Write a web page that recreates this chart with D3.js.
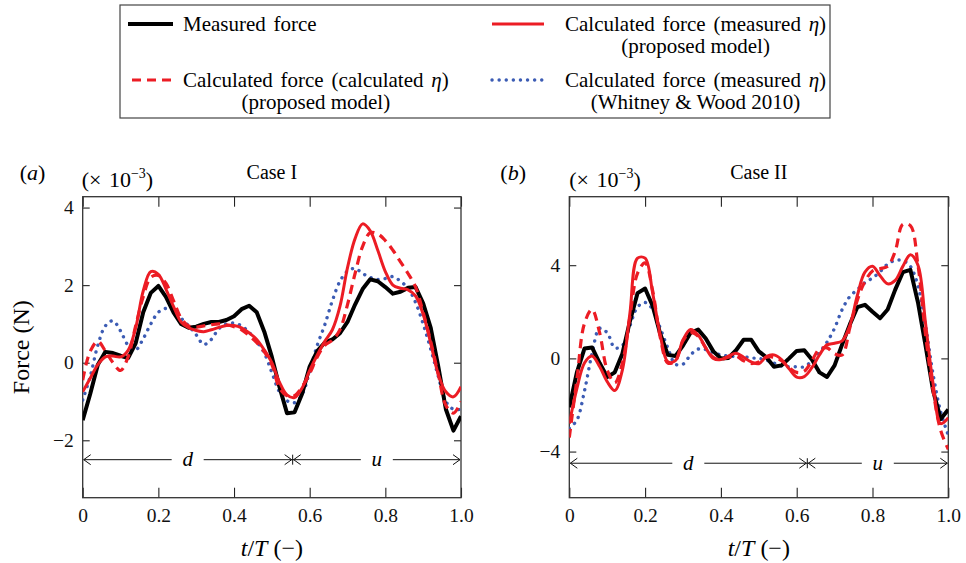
<!DOCTYPE html>
<html><head><meta charset="utf-8">
<script src="https://cdn.jsdelivr.net/npm/d3@7"></script>
<style>
html,body{margin:0;padding:0;background:#fff;}
svg{display:block;font-family:"Liberation Serif","Times New Roman",serif;}
</style></head>
<body>
<svg id="chart" width="966" height="563"></svg>
<script>
// ---------- DATA ----------
const tGrid = [0,0.02,0.04,0.06,0.08,0.10,0.12,0.14,0.16,0.18,0.20,0.22,0.24,0.26,0.28,0.30,0.32,0.34,0.36,0.38,0.40,0.42,0.44,0.46,0.48,0.50,0.52,0.54,0.56,0.58,0.60,0.62,0.64,0.66,0.68,0.70,0.72,0.74,0.76,0.78,0.80,0.82,0.84,0.86,0.88,0.90,0.92,0.94,0.96,0.98,1.00];

// Case I (x 1e-3 N)
const caseI_measured = [-1.48,-0.8,-0.05,0.28,0.25,0.18,0.12,0.5,1.3,1.8,1.98,1.7,1.3,1.0,0.9,0.93,1.0,1.05,1.05,1.1,1.2,1.38,1.47,1.3,0.8,0.15,-0.62,-1.3,-1.28,-0.8,-0.1,0.3,0.52,0.6,0.76,1.05,1.5,1.9,2.15,2.1,1.95,1.78,1.83,1.93,1.95,1.53,0.9,-0.1,-1.2,-1.75,-1.38];
const caseI_calcMeasEta = [-0.75,-0.4,-0.05,0.15,0.17,0.15,0.32,0.9,1.85,2.35,2.28,1.9,1.45,1.05,0.9,0.83,0.8,0.85,0.91,0.96,0.96,0.9,0.77,0.6,0.33,0.0,-0.5,-0.83,-0.9,-0.65,-0.2,0.2,0.55,0.85,1.45,2.45,3.2,3.58,3.4,2.9,2.35,2.0,1.92,1.88,1.72,1.25,0.5,-0.3,-0.75,-0.88,-0.62];
const caseI_calcCalcEta = [-0.45,0.3,0.55,0.3,0.0,-0.2,0.15,0.95,1.7,2.2,2.25,2.05,1.6,1.15,0.95,0.92,0.95,0.98,1.0,0.98,0.93,0.85,0.7,0.52,0.28,-0.05,-0.65,-0.85,-0.85,-0.62,-0.28,0.15,0.45,0.58,0.85,1.5,2.3,3.0,3.35,3.32,3.15,2.9,2.6,2.3,1.95,1.3,0.55,-0.3,-1.1,-1.3,-1.0];
const caseI_whitney = [-0.96,-0.35,0.45,0.95,1.08,0.82,0.45,0.33,0.62,1.0,1.3,1.4,1.36,1.15,0.95,0.72,0.47,0.6,0.88,1.0,1.02,0.95,0.78,0.55,0.25,-0.25,-0.75,-0.98,-1.03,-0.82,-0.22,0.45,0.98,1.6,2.1,2.36,2.43,2.3,2.2,2.15,2.17,2.22,2.1,1.92,1.55,1.0,0.35,-0.35,-1.0,-1.2,-1.2];

// Case II (x 1e-3 N)
const caseII_measured = [-2.1,-0.6,0.42,0.47,-0.2,-0.8,-0.6,0.2,1.6,2.8,3.0,2.25,1.05,0.15,0.1,0.55,1.1,1.24,0.85,0.3,0.0,0.02,0.35,0.8,0.8,0.3,0.05,-0.36,-0.3,0.0,0.32,0.35,-0.05,-0.6,-0.8,-0.3,0.6,1.45,2.2,2.3,2.0,1.72,2.1,2.95,3.7,3.8,2.4,0.55,-1.4,-2.6,-2.2];
const caseII_calcMeasEta = [-2.8,-1.3,-0.2,0.1,-0.35,-1.0,-1.38,-0.5,1.95,4.3,4.3,2.8,1.0,-0.15,-0.1,0.8,1.24,1.0,0.45,0.0,-0.05,0.1,0.22,0.05,-0.15,-0.23,0.08,0.15,-0.05,-0.45,-0.8,-0.78,-0.4,0.15,0.58,0.65,0.75,1.4,2.7,3.7,3.95,3.55,3.2,3.35,3.95,4.45,4.0,1.5,-1.1,-2.8,-2.55];
const caseII_calcCalcEta = [-3.4,-0.9,1.5,2.1,1.1,-0.5,-1.05,-0.2,1.8,3.65,4.1,2.9,0.9,-0.2,-0.1,0.75,1.1,0.95,0.45,0.05,-0.05,0.05,0.1,-0.1,-0.22,-0.15,0.05,0.05,-0.1,-0.4,-0.6,-0.55,-0.1,0.4,0.45,0.2,0.15,1.3,2.5,3.3,3.75,3.85,3.95,4.6,5.75,5.7,4.0,1.0,-1.4,-3.1,-3.9];
const caseII_whitney = [-3.0,-2.65,-1.4,0.2,1.29,1.1,0.45,0.55,1.4,2.2,2.4,2.1,1.3,0.45,-0.25,-0.25,0.15,0.4,0.38,0.25,0.15,0.1,0.08,0.07,0.02,0.0,-0.08,-0.2,-0.33,-0.36,-0.36,-0.36,-0.1,0.25,0.7,1.3,2.1,2.65,2.95,3.25,3.45,3.72,4.05,4.2,4.2,3.95,3.1,1.4,-0.7,-2.3,-3.3];

const xTicks = [0,0.2,0.4,0.6,0.8,1.0];
const xTickLabels = ["0","0.2","0.4","0.6","0.8","1.0"];
const yTicksI = [-2,0,2,4];
const yTicksII = [-4,0,4];
const phaseSplitI = 0.555, phaseSplitII = 0.628;
const phaseLevelI = -2.5, phaseLevelII = -4.5;
const panelTitles = ["Case I","Case II"];
const panelLetters = ["a","b"];
const legendLabels = [
  ["Measured force"],
  ["Calculated force (measured η)","(proposed model)"],
  ["Calculated force (calculated η)","(proposed model)"],
  ["Calculated force (measured η)","(Whitney & Wood 2010)"]
];

// ---------- STYLES ----------
const RED = "#ec1c24", BLUE = "#3c5cb4";
const styles = [
  {stroke:"#000", width:4, dash:null, curve:d3.curveLinear, cap:"butt"},
  {stroke:RED, width:3, dash:null, curve:d3.curveCatmullRom.alpha(0.5), cap:"butt"},
  {stroke:RED, width:3.2, dash:"9,6", curve:d3.curveCatmullRom.alpha(0.5), cap:"butt"},
  {stroke:BLUE, width:3.4, dash:"0.1,7", curve:d3.curveCatmullRom.alpha(0.5), cap:"round"}
];

const svg = d3.select("#chart");
const FONT = '"Liberation Serif","Times New Roman",serif';

const panels = [
  {x0:82.7, x1:461, yDom:[-3.48,4.28], yTicks:yTicksI, series:[caseI_measured,caseI_calcMeasEta,caseI_calcCalcEta,caseI_whitney], split:phaseSplitI, level:phaseLevelI, ylab:true},
  {x0:569.3, x1:948.3, yDom:[-5.98,6.94], yTicks:yTicksII, series:[caseII_measured,caseII_calcMeasEta,caseII_calcCalcEta,caseII_whitney], split:phaseSplitII, level:phaseLevelII, ylab:false}
];
const yTop = 196.7, yBot = 497.7;

panels.forEach((p, pi) => {
  const x = d3.scaleLinear().domain([0,1]).range([p.x0, p.x1]);
  const y = d3.scaleLinear().domain(p.yDom).range([yBot, yTop]);
  const g = svg.append("g");

  const clipId = "clip"+pi;
  svg.append("clipPath").attr("id", clipId).append("rect")
    .attr("x", p.x0).attr("y", yTop).attr("width", p.x1-p.x0).attr("height", yBot-yTop);

  // axes
  const axB = d3.axisBottom(x).tickValues(xTicks).tickSize(-10).tickPadding(10).tickFormat((d,i)=>xTickLabels[i]);
  const axT = d3.axisTop(x).tickValues(xTicks).tickSize(-10).tickFormat("");
  const axL = d3.axisLeft(y).tickValues(p.yTicks).tickSize(-7).tickPadding(9).tickFormat(d => d<0 ? "\u2212"+Math.abs(d) : String(d));
  const axR = d3.axisRight(y).tickValues(p.yTicks).tickSize(-7).tickFormat("");
  const gb = g.append("g").attr("transform",`translate(0,${yBot})`).call(axB);
  const gt = g.append("g").attr("transform",`translate(0,${yTop})`).call(axT);
  const gl = g.append("g").attr("transform",`translate(${p.x0},0)`).call(axL);
  const gr = g.append("g").attr("transform",`translate(${p.x1},0)`).call(axR);
  [gb,gt,gl,gr].forEach(a => {
    a.select(".domain").remove();
    a.selectAll(".tick line").attr("stroke","#222").attr("stroke-width",1.1);
    a.selectAll("text").attr("font-family",FONT).attr("font-size",19.5).attr("fill","#111");
  });

  // frame
  g.append("rect").attr("x",p.x0).attr("y",yTop).attr("width",p.x1-p.x0).attr("height",yBot-yTop)
    .attr("fill","none").attr("stroke","#333").attr("stroke-width",1.3);

  // phase arrows
  const ay = y(p.level);
  const xs = x(p.split);
  const pg = g.append("g").attr("stroke","#111").attr("stroke-width",1).attr("fill","none");
  const dC = x((0+p.split)/2), uC = x((p.split+1)/2);
  const gapHalf = 16;
  pg.append("line").attr("x1",x(0)+1).attr("x2",dC-gapHalf).attr("y1",ay).attr("y2",ay);
  pg.append("line").attr("x1",dC+gapHalf).attr("x2",xs).attr("y1",ay).attr("y2",ay);
  pg.append("line").attr("x1",xs).attr("x2",uC-gapHalf).attr("y1",ay).attr("y2",ay);
  pg.append("line").attr("x1",uC+gapHalf).attr("x2",x(1)-1).attr("y1",ay).attr("y2",ay);
  const head = (tipX, dir) => pg.append("path")
    .attr("d",`M${tipX+dir*7},${ay-5} L${tipX},${ay} L${tipX+dir*7},${ay+5}`);
  head(x(0)+1, 1); head(xs-1, -1); head(xs+1, 1); head(x(1)-1, -1);
  pg.append("line").attr("x1",xs).attr("x2",xs).attr("y1",ay-5).attr("y2",ay+5);
  g.append("text").attr("x",dC).attr("y",ay).attr("dy","0.32em").attr("text-anchor","middle")
    .attr("font-family",FONT).attr("font-size",21).attr("font-style","italic").text("d");
  g.append("text").attr("x",uC).attr("y",ay).attr("dy","0.32em").attr("text-anchor","middle")
    .attr("font-family",FONT).attr("font-size",21).attr("font-style","italic").text("u");

  // series (blue, measured, dashed, red solid on top)
  const lg = g.append("g").attr("clip-path",`url(#${clipId})`);
  [3,0,2,1].forEach(si => {
    const st = styles[si];
    const vals = p.series[si];
    const line = d3.line().x((d,i)=>x(tGrid[i])).y(d=>y(d)).curve(st.curve);
    lg.append("path").datum(vals).attr("d",line).attr("fill","none")
      .attr("stroke",st.stroke).attr("stroke-width",st.width)
      .attr("stroke-dasharray",st.dash).attr("stroke-linecap",st.cap).attr("stroke-linejoin","round");
  });

  // titles
  const cx = (p.x0+p.x1)/2;
  g.append("text").attr("x",cx).attr("y",179).attr("text-anchor","middle")
    .attr("font-family",FONT).attr("font-size",20).text(panelTitles[pi]);
  const lt = g.append("text").attr("x",p.x0-63+ (pi===1? -6:0)).attr("y",180)
    .attr("font-family",FONT).attr("font-size",22);
  lt.append("tspan").text("(");
  lt.append("tspan").attr("font-style","italic").text(panelLetters[pi]);
  lt.append("tspan").text(")");
  const sc = g.append("text").attr("x",p.x0-1+(pi===1?1:0)).attr("y",187)
    .attr("font-family",FONT).attr("font-size",22).attr("word-spacing",2);
  sc.append("tspan").text("(\u00D7 10");
  sc.append("tspan").attr("dy",-9).attr("font-size",14).text("\u22123");
  sc.append("tspan").attr("dy",9).text(")");

  // x label
  const xl = g.append("text").attr("x",cx).attr("y",556).attr("text-anchor","middle")
    .attr("font-family",FONT).attr("font-size",24);
  xl.append("tspan").attr("font-style","italic").text("t");
  xl.append("tspan").text("/");
  xl.append("tspan").attr("font-style","italic").text("T");
  xl.append("tspan").text(" (\u2212)");

  if (p.ylab) {
    g.append("text").attr("transform",`translate(29,${(yTop+yBot)/2}) rotate(-90)`)
      .attr("text-anchor","middle").attr("font-family",FONT).attr("font-size",24).text("Force (N)");
  }
});

// ---------- LEGEND ----------
const leg = svg.append("g");
leg.append("rect").attr("x",120).attr("y",5).attr("width",710).attr("height",113)
  .attr("fill","#fff").attr("stroke","#444").attr("stroke-width",1.2);
const legPos = [
  {sx:128, sy:24, tx:183, ty:31},
  {sx:492, sy:24, tx:565, ty:31},
  {sx:132, sy:80, tx:183, ty:87},
  {sx:492, sy:80, tx:565, ty:87}
];
const legSymbol = [{w:45},{w:52},{w:41},{w:52}];
legPos.forEach((lp, i) => {
  const st = styles[i];
  leg.append("line").attr("x1",lp.sx).attr("x2",lp.sx+legSymbol[i].w).attr("y1",lp.sy).attr("y2",lp.sy)
    .attr("stroke",st.stroke).attr("stroke-width",st.width).attr("stroke-dasharray",st.dash)
    .attr("stroke-linecap",st.cap);
  const labels = legendLabels[i];
  const t1 = leg.append("text").attr("x",lp.tx).attr("y",lp.ty).attr("font-family",FONT)
    .attr("font-size",21).attr("word-spacing",2.5);
  const m = labels[0].match(/^(.*)η\)$/);
  if (m) {
    t1.append("tspan").text(m[1]);
    t1.append("tspan").attr("font-style","italic").text("η");
    t1.append("tspan").text(")");
  } else t1.text(labels[0]);
  if (labels[1]) {
    const w = t1.node().getBBox().width;
    leg.append("text").attr("x",lp.tx + w/2).attr("y",lp.ty+22).attr("text-anchor","middle")
      .attr("font-family",FONT).attr("font-size",21).text(labels[1]);
  }
});
</script>
</body></html>
